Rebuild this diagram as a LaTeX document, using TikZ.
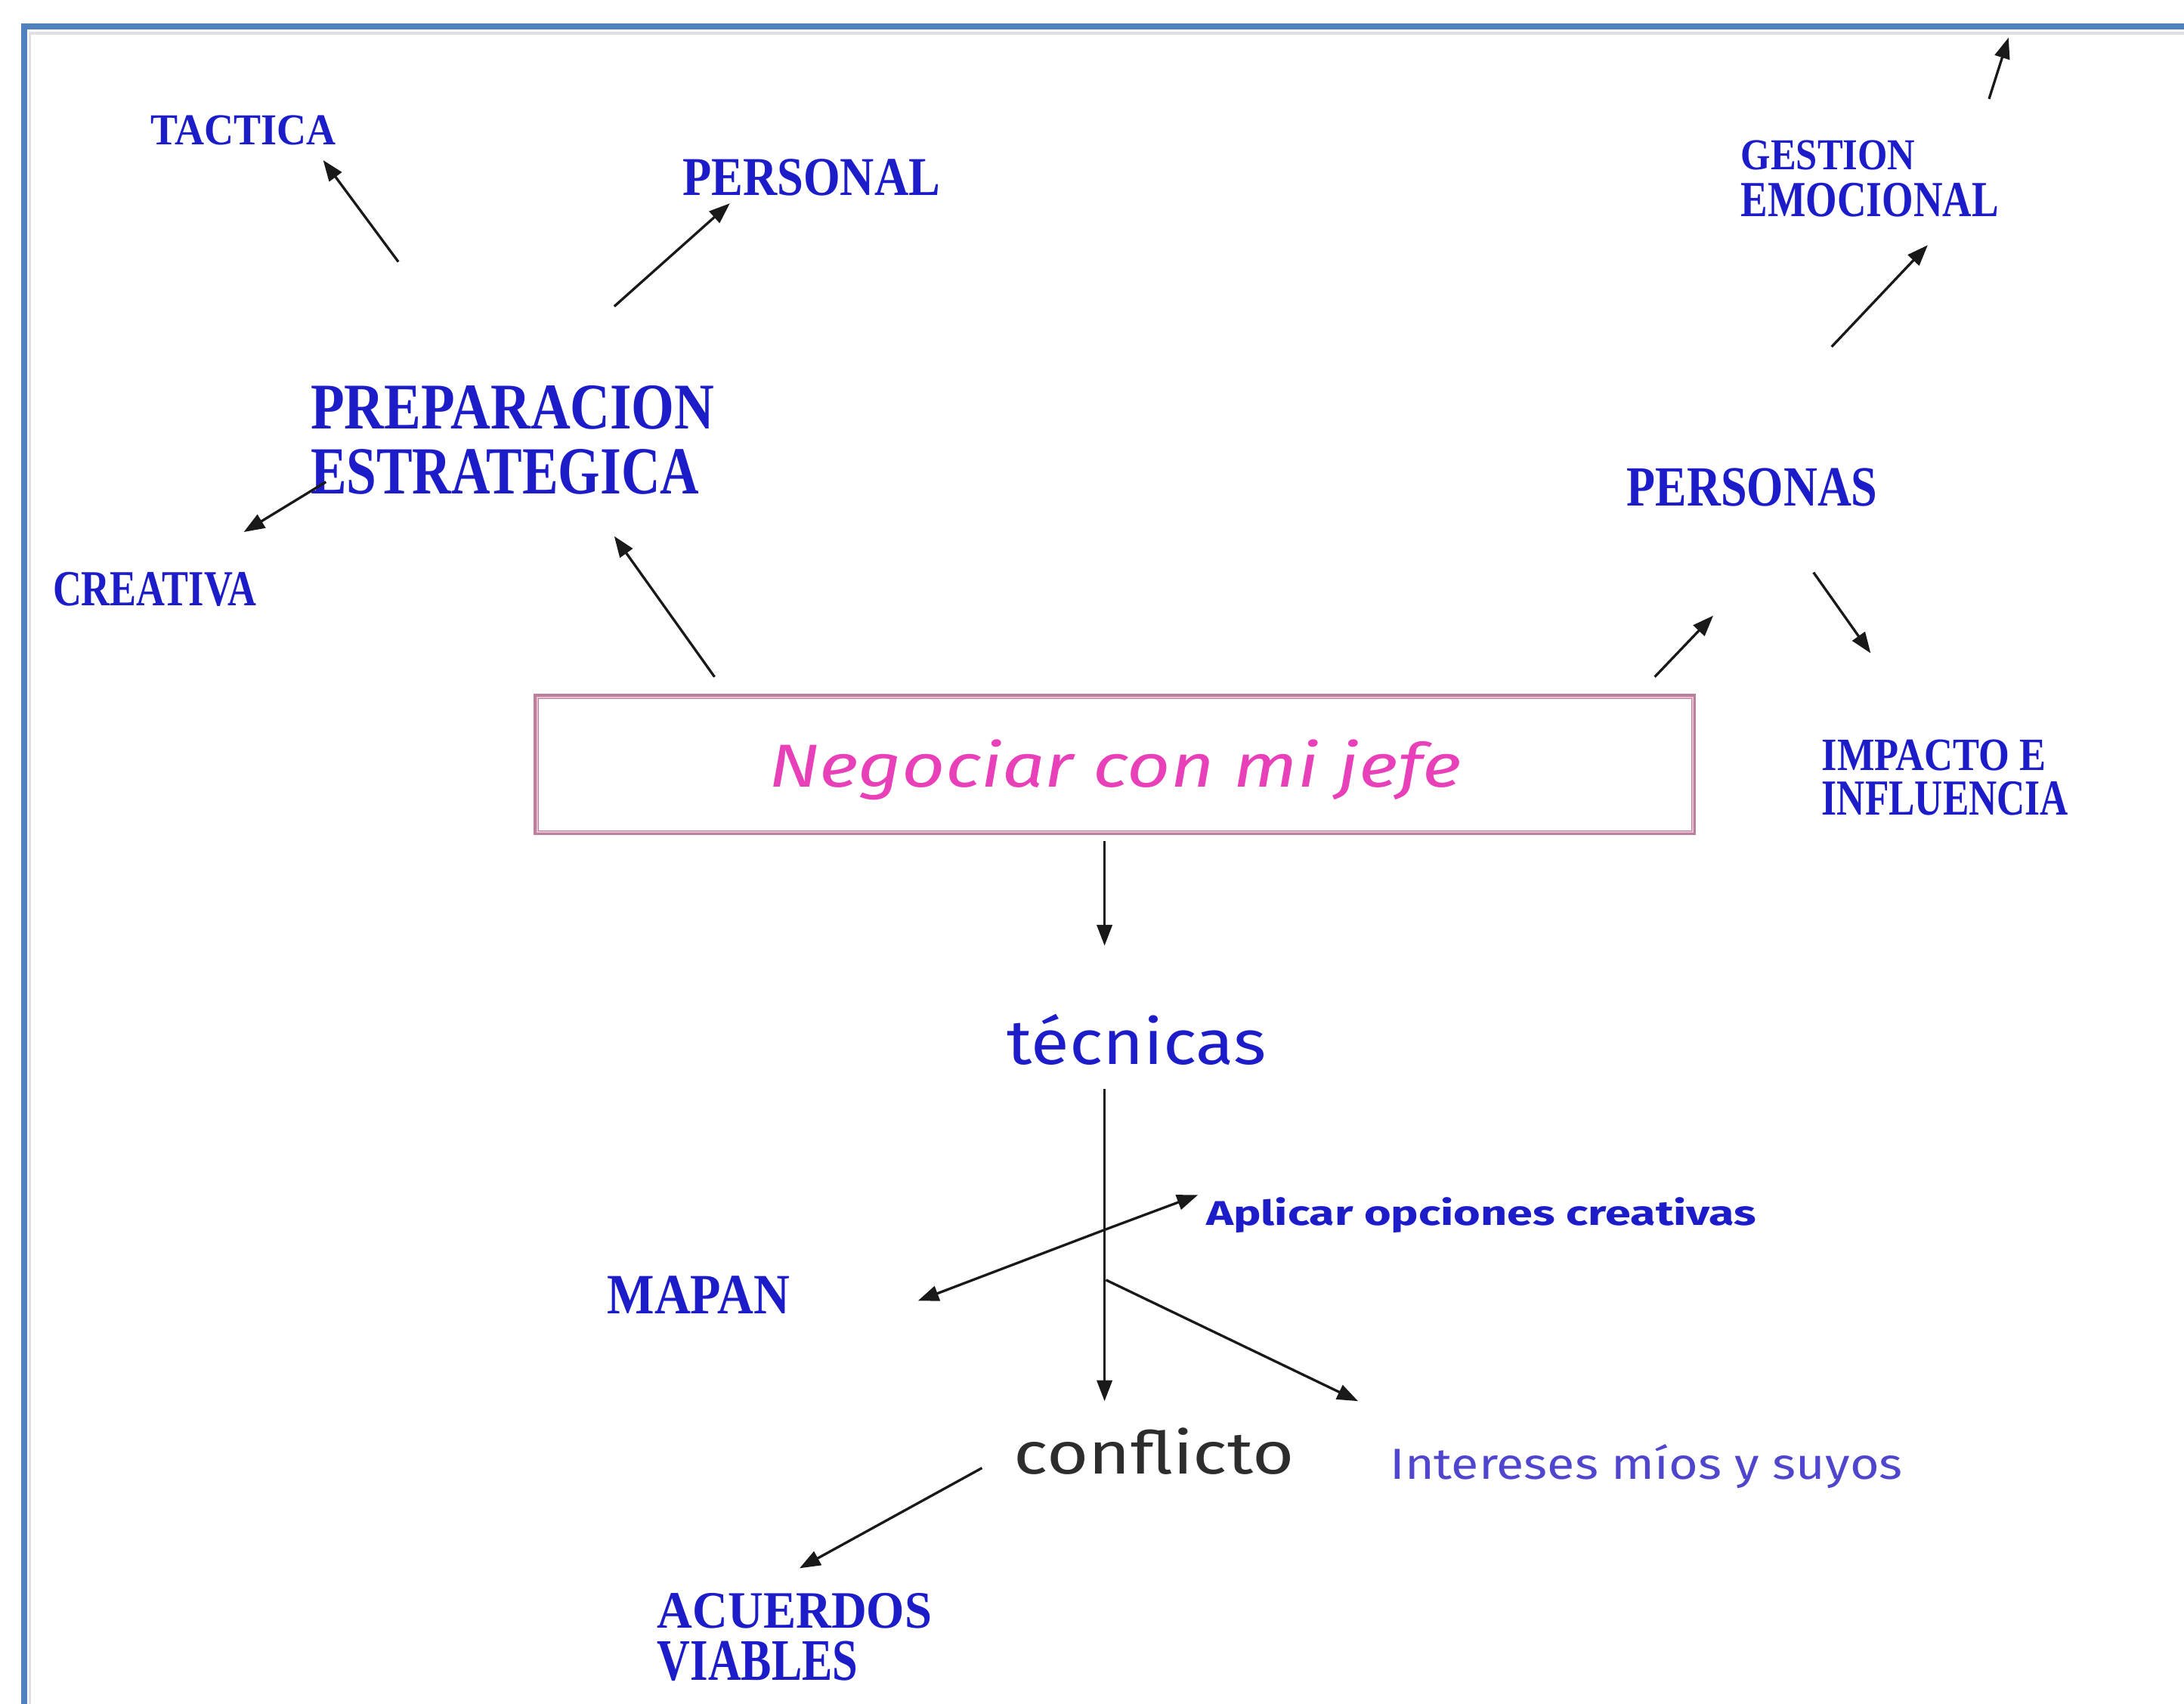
\documentclass[tikz,border=0pt]{standalone}
\usepackage{fontspec}
\usepackage{graphicx}
\usetikzlibrary{arrows.meta}
\setmainfont{Liberation Serif}
\newfontfamily\capsfont{Liberation Serif}
\newfontfamily\handfont{Fira Sans}
\definecolor{labelblue}{RGB}{28,28,200}
\definecolor{intblue}{RGB}{80,70,205}
\definecolor{negmag}{RGB}{232,64,184}
\definecolor{boxedge}{RGB}{186,128,158}
\definecolor{boxinner}{RGB}{236,190,212}
\definecolor{confgray}{RGB}{45,45,45}
\definecolor{frameblue}{RGB}{79,129,189}
\definecolor{arrowcol}{RGB}{25,25,25}
\newcommand{\rzb}[3]{\resizebox{#1pt}{#2pt}{#3}}
\newcommand{\twoln}[7]{\vbox{\offinterlineskip\hbox{\rzb{#1}{#2}{#3}}\kern#4pt\hbox{\rzb{#5}{#6}{#7}}}}
\tikzset{
  lbl/.style={anchor=base west, inner sep=0pt, outer sep=0pt, text=labelblue, font=\capsfont\bfseries},
  mlbl/.style={anchor=north west, inner sep=0pt, outer sep=0pt, text=labelblue, font=\capsfont\bfseries},
  hand/.style={anchor=base west, inner sep=0pt, outer sep=0pt, font=\handfont},
  mainbox/.style={draw=boxedge, line width=3.5pt, inner sep=0pt, text=negmag, font=\handfont\itshape},
  arr/.style={-{Triangle[length=15pt,width=11pt]}, line width=1.8pt, draw=arrowcol},
  frame/.style={draw=frameblue, line width=4.5pt},
}
\begin{document}
\begin{tikzpicture}[x=1pt,y=-1pt]
\useasboundingbox (0,0) rectangle (1568,1223);
\fill[white] (0,0) rectangle (1568,1223);
% frame (open on right and bottom)
\draw[black!12, line width=2pt] (21.5,1300) -- (21.5,24) -- (1650,24);
\draw[frame] (17.5,1300) -- (17.5,19) -- (1650,19);

% nodes
\node[lbl] (tactica) at (108,104) {\rzb{133}{21}{TACTICA}};
\node[lbl] (personal) at (490,140) {\rzb{185}{26}{PERSONAL}};
\node[mlbl] (prep) at (223,277) {\twoln{290}{31}{PREPARACION}{14}{279}{32}{ESTRATEGICA}};
\node[lbl] (creativa) at (38,435) {\rzb{146}{24}{CREATIVA}};
\node[mlbl] (gestion) at (1250,101) {\twoln{125}{21}{GESTION}{9}{185}{24}{EMOCIONAL}};
\node[lbl] (personas) at (1168,363) {\rzb{180}{27}{PERSONAS}};
\node[mlbl] (impacto) at (1308,531) {\twoln{161}{22}{IMPACTO E}{8}{177}{24}{INFLUENCIA}};
\node[mainbox, text height=65pt, text depth=33pt, minimum width=831pt] (box) at (800.5,549)
  {\rzb{497}{34}{Negociar con mi jefe}};
\draw[boxinner, line width=1pt] ([xshift=2.5pt,yshift=2.5pt]box.south west) rectangle ([xshift=-2.5pt,yshift=-2.5pt]box.north east);
\node[hand, text=labelblue] (tecnicas) at (723,764) {\rzb{186}{36}{técnicas}};
\node[hand, text=labelblue, font=\handfont\bfseries] (aplicar) at (866,880) {\rzb{395}{20}{Aplicar opciones creativas}};
\node[lbl] (mapan) at (436,943) {\rzb{131}{27}{MAPAN}};
\node[hand, text=confgray] (conflicto) at (728,1058) {\rzb{201}{33}{conflicto}};
\node[hand, text=intblue] (intereses) at (998,1062) {\rzb{368}{25}{Intereses míos y suyos}};
\node[mlbl] (acuerdos) at (472,1144) {\twoln{197}{25}{ACUERDOS}{9}{144}{28}{VIABLES}};

% connector end points
\coordinate (a1s) at (286,188);  \coordinate (a1e) at (232,115);
\coordinate (a2s) at (441,220);  \coordinate (a2e) at (524,146);
\coordinate (a3s) at (234,346);  \coordinate (a3e) at (175,382);
\coordinate (a4s) at (513,486);  \coordinate (a4e) at (441,385);
\coordinate (a5s) at (1188,486); \coordinate (a5e) at (1230,442);
\coordinate (a6s) at (1315,249); \coordinate (a6e) at (1384,176);
\coordinate (a7s) at (1428,71);  \coordinate (a7e) at (1442,27);
\coordinate (a8s) at (1302,411); \coordinate (a8e) at (1343,469);
\coordinate (a9s) at (793,604);  \coordinate (a9e) at (793,679);
\coordinate (a10s) at (793,782); \coordinate (a10e) at (793,1006);
\coordinate (j1) at (793,883);
\coordinate (a11e) at (659,934);
\coordinate (a12e) at (860,858);
\coordinate (j2) at (794,919);   \coordinate (a13e) at (975,1006);
\coordinate (a14s) at (705,1054); \coordinate (a14e) at (574,1126);

% connectors
\draw[arr] (a1s) -- (a1e);
\draw[arr] (a2s) -- (a2e);
\draw[arr] (a3s) -- (a3e);
\draw[arr] (a4s) -- (a4e);
\draw[arr] (a5s) -- (a5e);
\draw[arr] (a6s) -- (a6e);
\draw[arr] (a7s) -- (a7e);
\draw[arr] (a8s) -- (a8e);
\draw[arr] (a9s) -- (a9e);
\draw[arr] (a10s) -- (a10e);
\draw[arr] (j1) -- (a11e);
\draw[arr] (j1) -- (a12e);
\draw[arr] (j2) -- (a13e);
\draw[arr] (a14s) -- (a14e);
\end{tikzpicture}
\end{document}
